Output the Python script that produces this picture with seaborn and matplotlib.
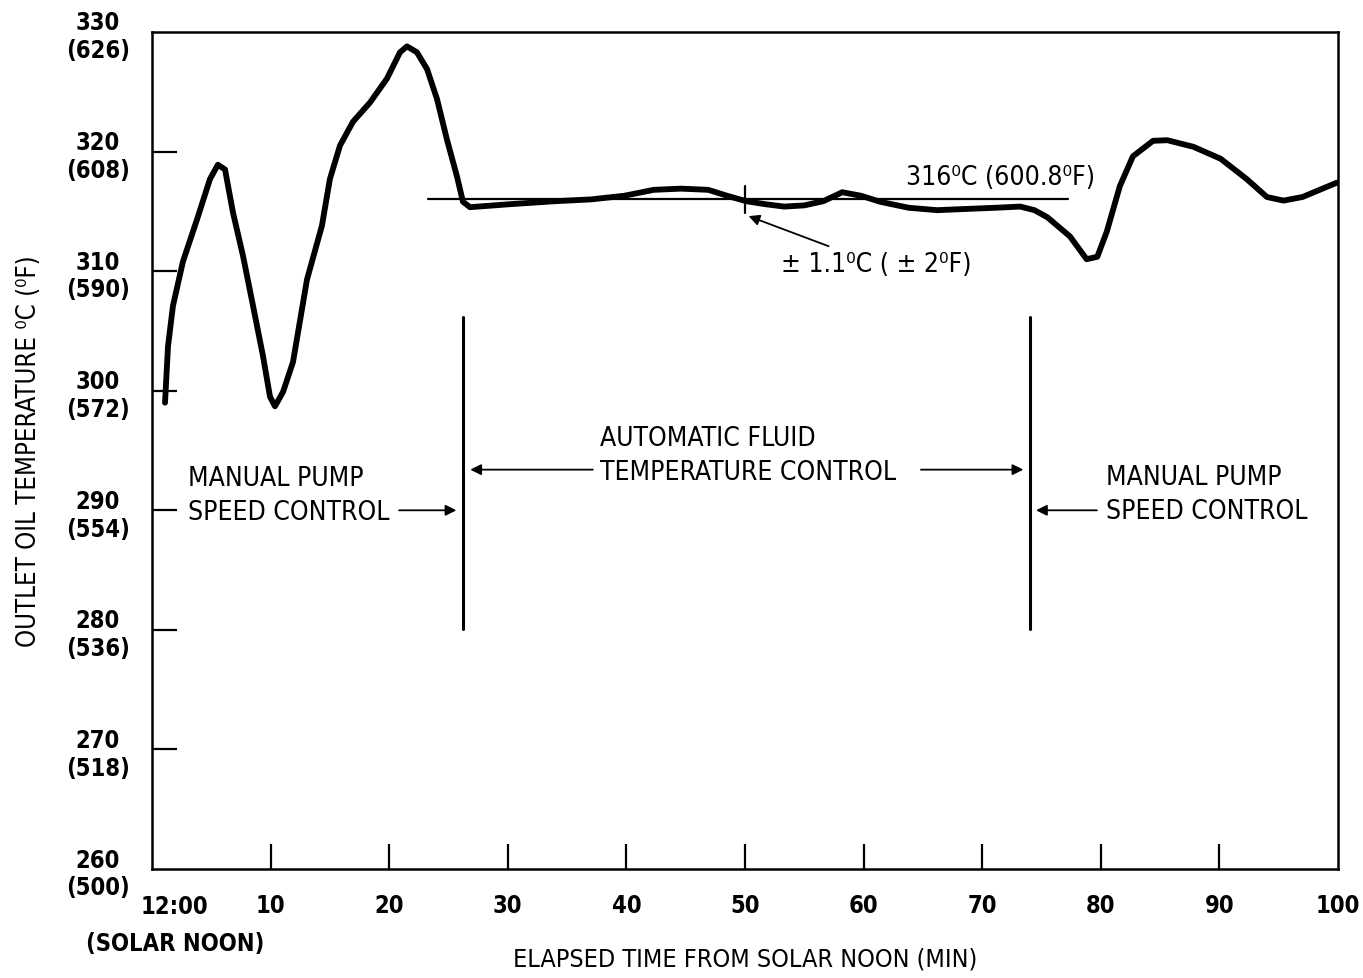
# Outlet oil temperature vs elapsed time from solar noon

import seaborn as sns
import matplotlib.pyplot as plt
import pandas as pd

# curve (minutes, deg C)
minutes = [1.10, 1.35, 1.77, 2.61, 3.79, 4.89, 5.56, 6.16, 6.83, 7.67, 8.52, 9.36, 9.95, 10.37,
           11.05, 11.89, 13.07, 14.33, 15.0, 15.85, 16.95, 18.38, 19.81, 20.91, 21.5, 22.34,
           23.19, 24.03, 24.87, 25.72, 26.22, 26.81, 30.2, 34.0, 37.0, 39.8, 42.3, 44.6, 46.9,
           48.5, 50.1, 51.7, 53.3, 55.0, 56.6, 58.2, 59.8, 61.4, 63.8, 66.2, 68.6, 71.1, 73.2,
           74.4, 75.5, 77.4, 78.8, 79.7, 80.5, 81.6, 82.7, 84.4, 85.6, 87.8, 90.1, 92.3, 94.0,
           95.4, 97.0, 99.9]
temp_c = [299.0, 303.7, 307.1, 310.8, 314.3, 317.7, 318.9, 318.5, 314.9, 311.3, 307.1, 302.9,
          299.5, 298.7, 299.9, 302.4, 309.3, 313.8, 317.7, 320.5, 322.5, 324.1, 326.1, 328.3,
          328.8, 328.3, 326.9, 324.4, 321.0, 317.9, 315.8, 315.35, 315.6, 315.85, 316.0, 316.3,
          316.8, 316.9, 316.8, 316.3, 315.85, 315.6, 315.4, 315.5, 315.85, 316.6, 316.3, 315.8,
          315.3, 315.1, 315.2, 315.3, 315.4, 315.1, 314.5, 312.9, 311.0, 311.2, 313.3, 317.1,
          319.6, 320.9, 320.95, 320.4, 319.4, 317.7, 316.2, 315.9, 316.2, 317.4]

setpoint_c = 316.0
setpoint_span = [23.3, 77.2]
band_c = 1.1
band_at = 50.0
mode_switch = [26.2, 74.0]
switch_span = [280.1, 306.2]

x_ticks = [0, 10, 20, 30, 40, 50, 60, 70, 80, 90, 100]
x_labels = ['', '10', '20', '30', '40', '50', '60', '70', '80', '90', '100']
y_ticks = [260, 270, 280, 290, 300, 310, 320, 330]
y_labels_f = ['500', '518', '536', '554', '572', '590', '608', '626']

df = pd.DataFrame({'min': minutes, 'temp': temp_c})

sns.set_style('white')
plt.rcParams['font.family'] = ['DejaVu Sans']
plt.rcParams['font.stretch'] = 'condensed'
plt.rcParams['text.color'] = 'black'
plt.rcParams['axes.labelcolor'] = 'black'
plt.rcParams['xtick.color'] = 'black'
plt.rcParams['ytick.color'] = 'black'

fig = plt.figure(figsize=(13.63, 9.79), dpi=100)
ax = fig.add_axes([0.1115, 0.1113, 0.8702, 0.855])

sns.lineplot(data=df, x='min', y='temp', color='black', linewidth=4.2, ax=ax)
for ln in ax.lines:
    ln.set_solid_joinstyle('round')
    ln.set_solid_capstyle('round')

# setpoint line and tolerance marker
ax.plot(setpoint_span, [setpoint_c, setpoint_c], color='black', linewidth=1.6)
ax.plot([band_at, band_at], [setpoint_c - band_c, setpoint_c + band_c], color='black', linewidth=1.6)
# control-mode boundaries
for xs in mode_switch:
    ax.plot([xs, xs], switch_span, color='black', linewidth=2.2)

ax.set_xlim(0, 100)
ax.set_ylim(260, 330)
ax.set_xticks(x_ticks)
ax.set_xticklabels(x_labels)
ax.set_yticks(y_ticks)
ax.set_yticklabels([f'{c}\n({f})' for c, f in zip(y_ticks, y_labels_f)], multialignment='center')
ax.tick_params(bottom=True, left=True, direction='in', length=18, width=1.6,
               color='black', labelsize=17)
ax.tick_params(axis='x', pad=17)
ax.tick_params(axis='y', pad=16)
for lbl in ax.get_xticklabels() + ax.get_yticklabels():
    lbl.set_fontweight('bold')
# no tick marks drawn on the frame corners
for t, v in zip(ax.xaxis.get_major_ticks(), x_ticks):
    if v in (0, 100):
        t.tick1line.set_visible(False)
for t, v in zip(ax.yaxis.get_major_ticks(), y_ticks):
    if v in (260, 330):
        t.tick1line.set_visible(False)
for s in ax.spines.values():
    s.set_color('black')
    s.set_linewidth(1.8)

ax.text(1.9, 257.9, '12:00', ha='center', va='top', fontsize=17, fontweight='bold')
ax.text(1.95, 254.8, '(SOLAR NOON)', ha='center', va='top', fontsize=17, fontweight='bold')

ax.set_xlabel('ELAPSED TIME FROM SOLAR NOON (MIN)', fontsize=18)
ax.xaxis.set_label_coords(0.5, -0.093)
ax.set_ylabel('OUTLET OIL TEMPERATURE ⁰C (⁰F)', fontsize=18.5)
ax.yaxis.set_label_coords(-0.0927, 0.5)

fs = 19
arrow = dict(arrowstyle='-|>', color='black', lw=1.3, mutation_scale=16)
ax.text(71.5, 317.9, '316⁰C (600.8⁰F)', ha='center', va='center', fontsize=fs)
ax.annotate('± 1.1⁰C ( ± 2⁰F)', xy=(50.3, 314.6), xytext=(53.0, 310.6),
            ha='left', va='center', fontsize=fs,
            arrowprops=dict(arrowstyle='-|>', color='black', lw=1.3, mutation_scale=16,
                            shrinkA=3, shrinkB=0))

ax.text(3.0, 291.3, 'MANUAL PUMP\nSPEED CONTROL', ha='left', va='center', fontsize=fs,
        linespacing=1.4)
ax.annotate('', xy=(25.9, 290.0), xytext=(20.6, 290.0), arrowprops=arrow)

ax.text(37.8, 294.6, 'AUTOMATIC FLUID\nTEMPERATURE CONTROL', ha='left', va='center', fontsize=fs,
        linespacing=1.4)
ax.annotate('', xy=(26.6, 293.4), xytext=(37.4, 293.4), arrowprops=arrow)
ax.annotate('', xy=(73.7, 293.4), xytext=(64.6, 293.4), arrowprops=arrow)

ax.text(80.4, 291.4, 'MANUAL PUMP\nSPEED CONTROL', ha='left', va='center', fontsize=fs,
        linespacing=1.4)
ax.annotate('', xy=(74.3, 290.0), xytext=(79.9, 290.0), arrowprops=arrow)

fig.savefig('out.png', dpi=100)
